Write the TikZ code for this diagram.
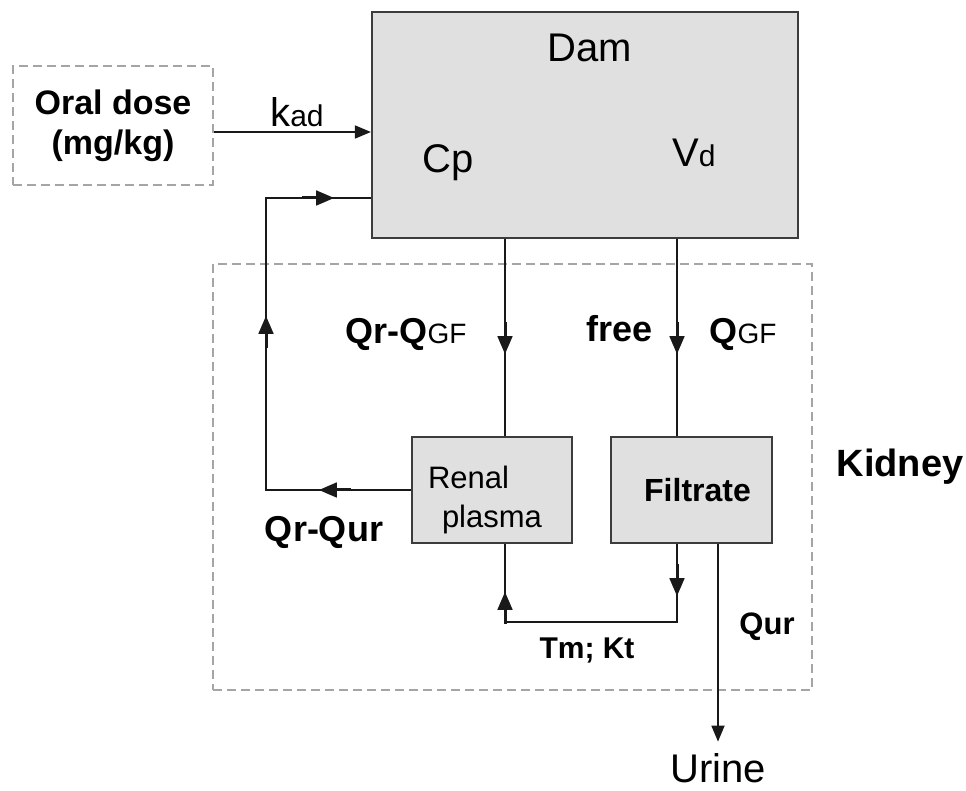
\documentclass[tikz,border=0pt]{standalone}
\usepackage{fontspec}
\setmainfont{Liberation Sans}
\usetikzlibrary{arrows.meta, decorations.markings}
\definecolor{boxfill}{RGB}{224, 224, 224}
\definecolor{boxline}{RGB}{60, 60, 60}
\definecolor{dashline}{RGB}{165, 165, 165}
\newcommand{\flowtip}{\draw[line width=1.5pt] (-16pt,0) -- (-6pt,0); \arrow{Triangle[length=9pt, width=7.5pt]}}

\begin{document}
\begin{tikzpicture}[x=0.5pt, y=-0.5pt,
    compbox/.style={rectangle, draw=boxline, fill=boxfill, line width=1.1pt, inner sep=2pt},
    dashbox/.style={rectangle, draw=dashline, dash pattern=on 4.5pt off 2.5pt, line width=0.7pt, inner sep=0pt},
    flow/.style={line width=0.9pt, draw=black!90},
    endtip/.style={-{Triangle[length=8pt, width=6.5pt]}},
    midtip/.style={postaction={decorate, decoration={markings, mark=at position #1 with {\flowtip}}}},
    boldlbl/.style={inner sep=0pt, anchor=base, font=\fontsize{18}{21}\selectfont\bfseries},
    plainlbl/.style={inner sep=0pt, anchor=base, font=\fontsize{20}{24}\selectfont}
]
    \useasboundingbox (0,0) rectangle (966,791);

    % Compartments
    \node[dashbox, minimum width=100pt, minimum height=59.5pt, align=center, font=\fontsize{17}{20}\selectfont\bfseries] (oral) at (113,125.5) {Oral dose\\(mg/kg)};
    \node[compbox, minimum width=213pt, minimum height=113pt] (dam) at (585,125) {};
    \node[dashbox, minimum width=299.5pt, minimum height=213pt] (kidneybox) at (512.5,477) {};
    \node[compbox, minimum width=80pt, minimum height=53pt, text width=64pt, align=left, font=\fontsize{15.5}{19.5}\selectfont] (renal) at (492,490) {\rule{0pt}{21pt}Renal\\\hspace*{7pt}plasma};
    \node[compbox, minimum width=80.5pt, minimum height=53pt, font=\fontsize{16}{19}\selectfont\bfseries] (filtrate) at (691.5,490) {\hspace*{6pt}Filtrate};
    \node[plainlbl] (urine) at (718,783) {Urine};

    % Labels
    \node[plainlbl] (damlbl) at (590,62) {Dam};
    \node[plainlbl] (cp) at (448,173) {Cp};
    \node[plainlbl] (vd) at (694,167) {V{\fontsize{15}{18}\selectfont d}};
    \node[plainlbl] (kad) at (297,127) {k{\fontsize{15}{18}\selectfont ad}};
    \node[boldlbl, font=\fontsize{19}{22}\selectfont\bfseries] (kidney) at (900,477) {Kidney};
    \node[boldlbl] (plasmaflow) at (406,344) {Qr-Q{\fontsize{14}{16}\selectfont\mdseries GF}};
    \node[boldlbl] (free) at (620,342) {free};
    \node[boldlbl] (gfr) at (743,344) {Q{\fontsize{14}{16}\selectfont\mdseries GF}};
    \node[boldlbl] (backflow) at (324,542) {Qr-Qur};
    \node[boldlbl, font=\fontsize{15}{17}\selectfont\bfseries] (tmkt) at (587,659) {Tm; Kt};
    \node[boldlbl, font=\fontsize{15.5}{18}\selectfont\bfseries] (qur) at (767,635) {Qur};

    % Line positions
    \coordinate (kin) at (373,132);
    \coordinate (ret) at (266,198);
    \coordinate (pl) at (505,0);
    \coordinate (fx) at (677,0);
    \coordinate (ux) at (718,0);
    \coordinate (tm) at (587,622);

    % Connectors
    \draw[flow, endtip] (oral.east |- kin) -- (dam.west |- kin);
    \draw[flow, midtip=46pt, midtip=159.5pt, midtip=252.5pt] (renal.west) -| (ret) -- (dam.west |- ret);
    \draw[flow, midtip=57.5pt] (dam.south -| pl) -- (renal.north -| pl);
    \draw[flow, midtip=57.5pt] (dam.south -| fx) -- (filtrate.north -| fx);
    \draw[flow, midtip=26pt, midtip=140pt] (filtrate.south -| fx) |- (tm) -| (renal.south -| pl);
    \draw[flow, endtip, shorten >=6pt] (filtrate.south -| ux) -- (urine.north -| ux);
\end{tikzpicture}
\end{document}
